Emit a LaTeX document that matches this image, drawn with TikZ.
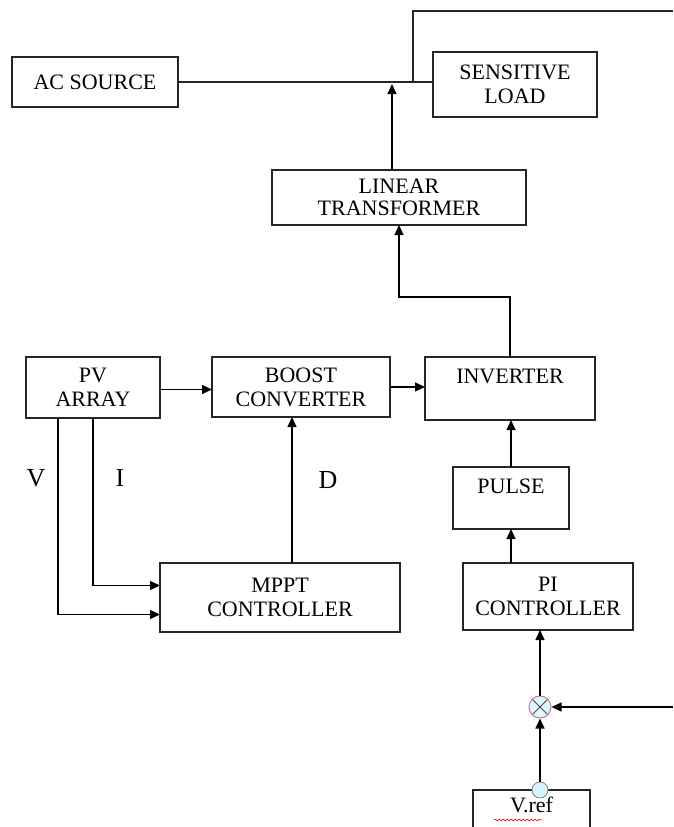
\documentclass[tikz,border=0pt]{standalone}
\usepackage{fontspec}
\setmainfont{Liberation Serif}
\usetikzlibrary{arrows.meta,decorations.pathmorphing}
\tikzset{
  blk/.style={draw=black!85, line width=1.3pt, inner sep=0pt, outer sep=0pt,
    align=center, font=\fontsize{22}{24}\selectfont},
  sig/.style={font=\fontsize{26}{28}\selectfont}
}
\begin{document}
\begin{tikzpicture}[x=1pt, y=-1pt, line width=1.3pt, >={Triangle[length=10pt,width=9pt]}]
  \useasboundingbox (0,0) rectangle (673,827);
  \clip (0,0) rectangle (673,827);
  % blocks
  \node[blk, minimum width=166pt, minimum height=50pt] (ac) at (95,82) {AC SOURCE};
  \node[blk, minimum width=164pt, minimum height=65pt] (load) at (515,84.5) {SENSITIVE\\LOAD};
  \node[blk, minimum width=254pt, minimum height=55pt, font=\fontsize{22}{22}\selectfont] (lin) at (399,197.5) {LINEAR\\TRANSFORMER};
  \node[blk, minimum width=134pt, minimum height=61pt] (pv) at (93,387.5) {PV\\ARRAY};
  \node[blk, minimum width=178pt, minimum height=60pt] (boost) at (301,387) {BOOST\\CONVERTER};
  \node[blk, minimum width=170pt, minimum height=63pt] (inv) at (510,388.5) {INVERTER\\\phantom{X}};
  \node[blk, minimum width=116pt, minimum height=62pt] (pulse) at (511,498) {PULSE\\\phantom{X}};
  \node[blk, minimum width=240pt, minimum height=69pt] (mppt) at (280,597.5) {MPPT\\CONTROLLER};
  \node[blk, minimum width=170pt, minimum height=67pt] (pi) at (548,596.5) {PI\\CONTROLLER};
  \node[blk, minimum width=117pt, minimum height=60pt, text depth=30pt] (vref) at (531.5,820) {V.ref};
  \node[draw=blue!40!orange!70, fill=cyan!12, circle, minimum size=22pt, inner sep=0pt, line width=1pt,
    path picture={\draw[black!70, line width=0.8pt] (path picture bounding box.north west) -- (path picture bounding box.south east)
      (path picture bounding box.north east) -- (path picture bounding box.south west);}] (sum) at (540,707) {};
  \node[draw=gray, fill=cyan!15, circle, minimum size=16pt, inner sep=0pt, line width=0.8pt] (dot) at (540,790) {};
  \draw[red, line width=0.6pt, decorate, decoration={snake, amplitude=0.8pt, segment length=4pt}] (494,820) -- (542,820);
  % edge points
  \coordinate (tp) at (413,11);
  \coordinate (te) at (673,11);
  \coordinate (fb) at (673,707);
  % ac line
  \draw[black!85] (ac.east) -- (ac.east -| load.west);
  \draw[black!85] (ac.east -| tp) -- (tp) -- (te);
  \draw[->, black] ([xshift=-7pt]lin.north) -- ([xshift=-7pt,yshift=-2pt]lin.north |- ac.east);
  \draw[->, black] (inv.north) -- ++(0,-60) -| (lin.south);
  % dc side
  \draw[->, black] ([yshift=-2pt]pv.east) -- ([yshift=-2pt]pv.east -| boost.west);
  \draw[->, black] (boost.east) -- (boost.east -| inv.west);
  \draw[->, black] ([xshift=12pt]mppt.north) -- ([xshift=12pt]mppt.north |- boost.south);
  \draw[->, black] (pv.south) |- ([yshift=12pt]mppt.west);
  \draw[->, black] ([xshift=-35pt]pv.south) |- ([yshift=-17pt]mppt.west);
  \node[sig] (vlab) at (36,478) {V};
  \node[sig] (ilab) at (120,478) {I};
  \node[sig] (dlab) at (328,480) {D};
  % control
  \draw[->, black] (pulse.south |- pi.north) -- (pulse.south);
  \draw[->, black] (pulse.north) -- (pulse.north |- inv.south);
  \draw[->, black] (sum.north) -- (sum.north |- pi.south);
  \draw[->, black] (dot.north) -- (sum.south);
  \draw[->, black] (fb) -- (sum.east);
\end{tikzpicture}
\end{document}
